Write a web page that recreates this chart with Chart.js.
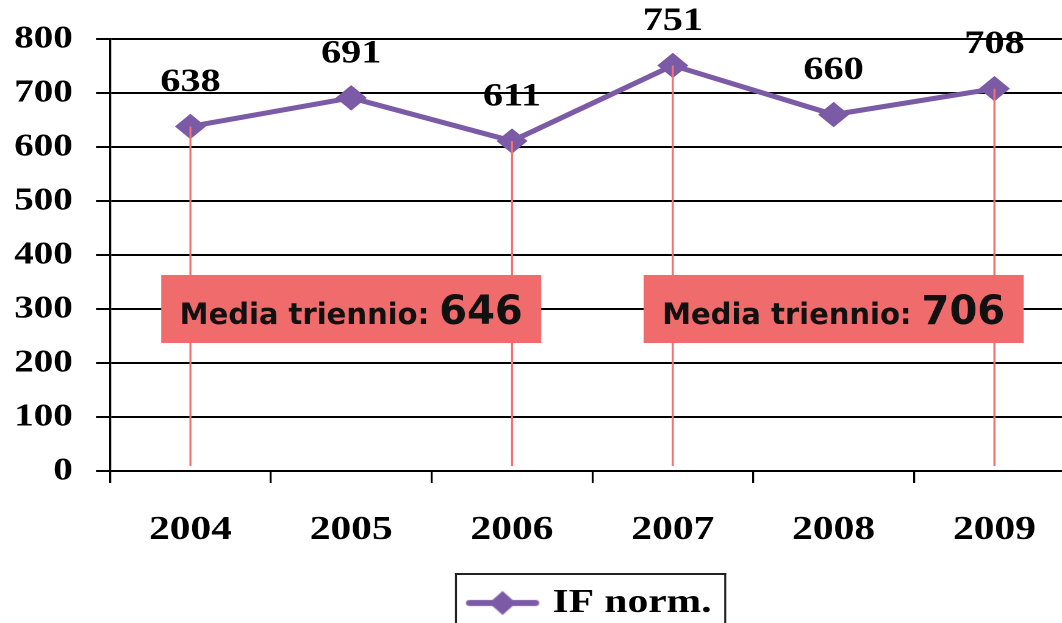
<!DOCTYPE html>
<html>
<head>
<meta charset="utf-8">
<title>IF norm. 2004-2009</title>
<script src="https://cdn.jsdelivr.net/npm/chart.js@4.4.1/dist/chart.umd.min.js"></script>
<style>
  html, body { margin: 0; padding: 0; background: #fff; overflow: hidden; }
  #wrap { width: 1062px; height: 623px; overflow: hidden; position: relative; background: #fff; }
  #c { position: absolute; left: 0; top: 0; transform-origin: 0 0; }
</style>
</head>
<body>
<div id="wrap"><canvas id="c" width="894" height="630"></canvas></div>
<script>
// Years on the category axis
const anni = ['2004', '2005', '2006', '2007', '2008', '2009'];
// Normalised impact factor per year
const ifNorm = [638, 691, 611, 751, 660, 708];
// Value axis ticks
const tickY = [0, 100, 200, 300, 400, 500, 600, 700, 800];
// First year index of each three-year period and its mean
const trienniInizio = [0, 3];
const mediaTriennio = [646, 706];
const serieNome = 'IF norm.';

// The whole chart is drawn narrow and widened horizontally
const STRETCH = 1.22;
const SERIF = '"Liberation Serif", "Times New Roman", serif';
const SANS = '"DejaVu Sans", Verdana, sans-serif';
const PURPLE = '#7B5AA6';
const RED_LINE = '#F27272';
const RED_BOX = '#F06B6B';

const canvas = document.getElementById('c');
canvas.style.transform = 'scaleX(' + STRETCH + ')';

// Legend symbol: a short line with a diamond
function legendMarker() {
  const c = document.createElement('canvas');
  c.width = 62; c.height = 26;
  const g = c.getContext('2d');
  g.strokeStyle = PURPLE; g.lineWidth = 6; g.lineCap = 'round';
  g.beginPath(); g.moveTo(4, 13); g.lineTo(58, 13); g.stroke();
  g.fillStyle = PURPLE;
  g.beginPath();
  g.moveTo(20, 13); g.lineTo(31, 1); g.lineTo(42, 13); g.lineTo(31, 25);
  g.closePath(); g.fill();
  return c;
}

// Period markers, mean boxes and point values
const annotazioni = {
  id: 'annotazioni',
  afterDatasetsDraw(chart) {
    const ctx = chart.ctx;
    const meta = chart.getDatasetMeta(0);
    const xs = chart.scales.x, ys = chart.scales.y;
    const base = ys.getPixelForValue(0) - 5;

    ctx.save();
    ctx.strokeStyle = RED_LINE;
    ctx.lineWidth = 2 / STRETCH;
    trienniInizio.forEach(s => {
      [s, s + 2].forEach(i => {
        const p = meta.data[i];
        ctx.beginPath();
        ctx.moveTo(p.x, p.y);
        ctx.lineTo(p.x, base);
        ctx.stroke();
      });
    });
    ctx.restore();

    trienniInizio.forEach((s, k) => {
      const cx = xs.getPixelForValue(s + 1);
      const cy = ys.getPixelForValue(300);
      ctx.save();
      ctx.translate(cx, cy);
      ctx.scale(1 / STRETCH, 1);
      ctx.fillStyle = RED_BOX;
      ctx.fillRect(-190, -34, 380, 68);
      const a = 'Media triennio: ';
      const b = String(mediaTriennio[k]);
      ctx.font = 'bold 29px ' + SANS;
      const wa = ctx.measureText(a).width;
      ctx.font = 'bold 40px ' + SANS;
      const wb = ctx.measureText(b).width;
      const x0 = -(wa + wb) / 2;
      ctx.fillStyle = '#111';
      ctx.textAlign = 'left';
      ctx.textBaseline = 'alphabetic';
      ctx.font = 'bold 29px ' + SANS;
      ctx.fillText(a, x0, 15);
      ctx.font = 'bold 40px ' + SANS;
      ctx.fillText(b, x0 + wa, 15);
      ctx.restore();
    });

    ctx.save();
    ctx.font = 'bold 33px ' + SERIF;
    ctx.fillStyle = '#000';
    ctx.textAlign = 'center';
    ctx.textBaseline = 'middle';
    meta.data.forEach((p, i) => {
      ctx.fillText(String(chart.data.datasets[0].data[i]), p.x, p.y - 44);
    });
    ctx.restore();
  }
};

// Frame around the legend entry
const cornice = {
  id: 'cornice',
  afterDraw(chart) {
    const hb = chart.legend && chart.legend.legendHitBoxes && chart.legend.legendHitBoxes[0];
    if (!hb) return;
    const ctx = chart.ctx;
    const x0 = hb.left - 15;
    const x1 = hb.left + hb.width + 12;
    const y0 = hb.top + hb.height / 2 - 30;
    const side = 2 / STRETCH;
    ctx.save();
    ctx.fillStyle = '#222';
    ctx.fillRect(x0, y0, x1 - x0, 2);
    ctx.fillRect(x0, y0, side, 120);
    ctx.fillRect(x1 - side, y0, side, 120);
    ctx.restore();
  }
};

new Chart(canvas, {
  type: 'line',
  data: {
    labels: anni,
    datasets: [{
      label: serieNome,
      data: ifNorm,
      borderColor: PURPLE,
      backgroundColor: PURPLE,
      borderWidth: 5,
      tension: 0,
      pointStyle: 'rectRot',
      pointRadius: 12,
      pointBorderWidth: 1,
      pointBackgroundColor: PURPLE,
      pointBorderColor: PURPLE,
      fill: false
    }]
  },
  options: {
    responsive: false,
    animation: false,
    devicePixelRatio: 2,
    layout: { padding: { top: 39, left: 0, right: 0, bottom: 0 } },
    plugins: {
      tooltip: { enabled: false },
      legend: {
        position: 'bottom',
        fullSize: false,
        labels: {
          usePointStyle: true,
          pointStyle: legendMarker(),
          pointStyleWidth: 48,
          padding: 10,
          color: '#000',
          font: { family: SERIF, size: 34, weight: 'bold' }
        }
      }
    },
    scales: {
      x: {
        offset: true,
        grid: {
          offset: true,
          drawOnChartArea: false,
          tickLength: 12,
          color: '#000',
          lineWidth: 2 / STRETCH
        },
        border: { display: true, color: '#000', width: 2 },
        ticks: {
          color: '#000',
          padding: 27,
          maxRotation: 0,
          autoSkip: false,
          font: { family: SERIF, size: 34, weight: 'bold' }
        },
        afterFit(scale) { scale.height = 105; }
      },
      y: {
        min: tickY[0],
        max: tickY[tickY.length - 1],
        ticks: {
          stepSize: tickY[1] - tickY[0],
          color: '#000',
          padding: 19,
          font: { family: SERIF, size: 32, weight: 'bold' }
        },
        grid: { color: '#000', lineWidth: 2, tickLength: 11.5 },
        border: { display: true, color: '#000', width: 2 / STRETCH },
        afterFit(scale) { scale.width = 110 / STRETCH; }
      }
    }
  },
  plugins: [annotazioni, cornice]
});
</script>
</body>
</html>
